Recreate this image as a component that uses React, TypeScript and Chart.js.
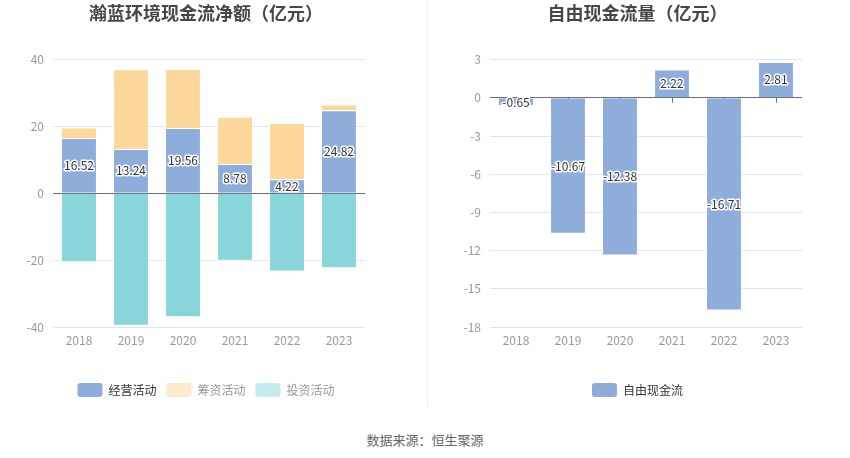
import { useEffect, useRef } from "react";
import { Chart, registerables } from "chart.js";
Chart.register(...registerables);

Chart.defaults.font.family = "'Noto Sans CJK SC', 'Noto Sans', sans-serif";

const YEARS = ["2018", "2019", "2020", "2021", "2022", "2023"];
const OPERATING = [16.52, 13.24, 19.56, 8.78, 4.22, 24.82];
const FINANCING = [3.18, 23.86, 17.64, 14.12, 16.78, 1.78];
const INVESTING = [-20.6, -39.6, -37.1, -20.2, -23.4, -22.4];
const FREE_CASH_FLOW = [-0.65, -10.67, -12.38, 2.22, -16.71, 2.81];

const LEFT_TICKS = { min: -40, max: 40, step: 20 };
const RIGHT_TICKS = { min: -18, max: 3, step: 3 };

const BLUE = "#8eaddb";
const ORANGE = "#fed89b";
const TEAL = "#88d6d9";
const LEGEND_FILL = [BLUE, "#feebcd", "#c4ecec"];
const LEGEND_TEXT = ["#333", "#999", "#999"];
const GRID = "#e0e6f1";
const AXIS = "#6e7079";
const LABEL = "#999";

// draws the numbers in the middle of the bars
const valueLabels = {
  id: "valueLabels",
  afterDatasetsDraw(chart: any, _args: any, opts: any) {
    const ctx = chart.ctx;
    (opts.datasets || []).forEach((i: number) => {
      const meta = chart.getDatasetMeta(i);
      const data = chart.data.datasets[i].data as number[];
      meta.data.forEach((bar: any, j: number) => {
        const { x, y } = bar.getCenterPoint();
        const text = data[j].toFixed(2);
        ctx.save();
        ctx.font = "12px 'Noto Sans CJK SC', sans-serif";
        ctx.textAlign = "center";
        ctx.textBaseline = "middle";
        ctx.lineJoin = "round";
        ctx.lineWidth = 3;
        ctx.strokeStyle = "#fff";
        ctx.strokeText(text, x, y);
        ctx.fillStyle = "#333";
        ctx.fillText(text, x, y);
        ctx.restore();
      });
    });
  },
};

// small category ticks hanging under the zero line
const zeroTicks = {
  id: "zeroTicks",
  beforeDatasetsDraw(chart: any) {
    const ctx = chart.ctx;
    const xs = chart.scales.x;
    const y0 = chart.scales.y.getPixelForValue(0);
    ctx.save();
    ctx.strokeStyle = AXIS;
    ctx.lineWidth = 1;
    xs.ticks.forEach((_t: any, i: number) => {
      const x = Math.round(xs.getPixelForTick(i)) + 0.5;
      ctx.beginPath();
      ctx.moveTo(x, y0);
      ctx.lineTo(x, y0 + 5);
      ctx.stroke();
    });
    ctx.restore();
  },
};

function makeOptions(title: string, range: { min: number; max: number; step: number }, yWidth: number, rightWidth: number, labelSets: number[]) {
  return {
    responsive: true,
    maintainAspectRatio: false,
    animation: false as const,
    layout: { padding: 0 },
    plugins: {
      title: {
        display: true,
        text: title,
        color: "#464646",
        font: { size: 18, weight: "bold" as const },
        padding: { top: 2, bottom: 36 },
      },
      legend: {
        position: "bottom" as const,
        labels: {
          boxWidth: 25,
          boxHeight: 14,
          padding: 10,
          useBorderRadius: true,
          borderRadius: 3,
          font: { size: 12 },
          generateLabels: (chart: any) =>
            chart.data.datasets.map((ds: any, i: number) => ({
              text: ds.label,
              fillStyle: LEGEND_FILL[i],
              strokeStyle: LEGEND_FILL[i],
              lineWidth: 0,
              fontColor: LEGEND_TEXT[i],
              hidden: false,
              datasetIndex: i,
              borderRadius: 3,
            })),
        },
      },
      tooltip: { enabled: false },
      valueLabels: { datasets: labelSets },
    },
    scales: {
      x: {
        stacked: true,
        grid: { display: false, drawTicks: false },
        border: { display: false },
        ticks: { color: LABEL, font: { size: 12 }, padding: 6 },
        afterFit: (s: any) => { s.height = 46; },
      },
      y: {
        stacked: true,
        min: range.min,
        max: range.max,
        grid: {
          drawTicks: false,
          color: (c: any) => (c.tick && c.tick.value === 0 ? AXIS : GRID),
        },
        border: { display: false },
        ticks: { stepSize: range.step, color: LABEL, font: { size: 12 }, padding: 9 },
        afterFit: (s: any) => { s.width = yWidth; },
      },
      gap: {
        position: "right" as const,
        display: true,
        grid: { display: false, drawTicks: false },
        border: { display: false },
        ticks: { display: false },
        afterFit: (s: any) => { s.width = rightWidth; },
      },
    },
  };
}

function CashFlowChart() {
  const ref = useRef<HTMLCanvasElement>(null);
  useEffect(() => {
    if (!ref.current) return;
    const chart = new Chart(ref.current, {
      type: "bar",
      data: {
        labels: YEARS,
        datasets: [
          { label: "经营活动", data: OPERATING, backgroundColor: BLUE },
          { label: "筹资活动", data: FINANCING, backgroundColor: ORANGE },
          { label: "投资活动", data: INVESTING, backgroundColor: TEAL },
        ].map(d => ({ ...d, borderColor: "rgba(255,255,255,0.7)", borderWidth: 1, categoryPercentage: 1, barPercentage: 0.69 })),
      },
      options: makeOptions("瀚蓝环境现金流净额（亿元）", LEFT_TICKS, 53, 47, [0]) as any,
      plugins: [valueLabels],
    });
    return () => chart.destroy();
  }, []);
  return <canvas ref={ref} />;
}

function FreeCashChart() {
  const ref = useRef<HTMLCanvasElement>(null);
  useEffect(() => {
    if (!ref.current) return;
    const chart = new Chart(ref.current, {
      type: "bar",
      data: {
        labels: YEARS,
        datasets: [
          {
            label: "自由现金流",
            data: FREE_CASH_FLOW,
            backgroundColor: BLUE,
            borderColor: "rgba(255,255,255,0.7)",
            borderWidth: 1,
            categoryPercentage: 1,
            barPercentage: 0.69,
          },
        ],
      },
      options: makeOptions("自由现金流量（亿元）", RIGHT_TICKS, 65, 48, [0]) as any,
      plugins: [zeroTicks, valueLabels],
    });
    return () => chart.destroy();
  }, []);
  return <canvas ref={ref} />;
}

export default function App() {
  return (
    <div style={{ position: "fixed", left: 0, top: 0, width: 850, height: 458, background: "#fff" }}>
      <div style={{ position: "absolute", left: 0, top: 0, width: 412, height: 407 }}>
        <CashFlowChart />
      </div>
      <div style={{ position: "absolute", left: 427, top: 0, width: 1, height: 407, background: "#eeeeee" }} />
      <div style={{ position: "absolute", left: 425, top: 0, width: 425, height: 407 }}>
        <FreeCashChart />
      </div>
      <div
        style={{
          position: "absolute",
          left: 0,
          top: 430,
          width: 850,
          textAlign: "center",
          fontSize: 13,
          color: "#666",
          fontFamily: "'Noto Sans CJK SC', sans-serif",
        }}
      >
        数据来源：恒生聚源
      </div>
    </div>
  );
}
